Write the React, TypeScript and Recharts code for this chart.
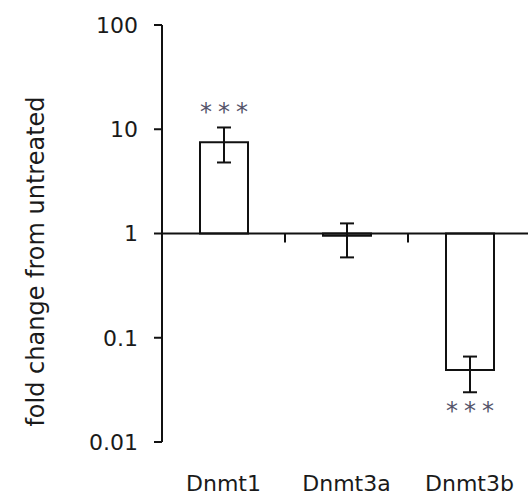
import { BarChart, Bar, XAxis, YAxis, ReferenceLine, LabelList, Label } from 'recharts'

const genes = ['Dnmt1', 'Dnmt3a', 'Dnmt3b']
const foldChange = [7.5, 0.95, 0.049]
const errLow = [4.8, 0.59, 0.03]
const errHigh = [10.4, 1.25, 0.066]
const significance = ['***', '', '***']
const yTicks = [0.01, 0.1, 1, 10, 100]

const data = genes.map((gene, i) => ({
  gene,
  bar: foldChange[i] >= 1 ? [1, foldChange[i]] : [foldChange[i], 1],
  err: [errLow[i], errHigh[i]],
  sig: significance[i],
  up: foldChange[i] >= 1,
}))

const font = 'DejaVu Sans, Verdana, sans-serif'
const ink = '#111'

// vertical whisker drawn from the hidden bar that spans low..high
function ErrorShape(props: any) {
  const { x, y, width, height } = props
  const cx = x + width / 2
  return (
    <g stroke={ink} strokeWidth={2}>
      <line x1={cx} x2={cx} y1={y} y2={y + height} />
      <line x1={cx - 7} x2={cx + 7} y1={y} y2={y} />
      <line x1={cx - 7} x2={cx + 7} y1={y + height} y2={y + height} />
    </g>
  )
}

function Stars(props: any) {
  const { x, y, width, height, index, value } = props
  if (!value) return null
  const up = data[index].up
  const ty = up ? y - 7 : y + height + 27
  return (
    <text
      x={x + width / 2 + 3}
      y={ty}
      textAnchor="middle"
      fontSize={24}
      letterSpacing={6}
      fontFamily={font}
      fill="#55556a"
    >
      {value}
    </text>
  )
}

function YTitle(props: any) {
  const vb = props.viewBox
  const cx = vb.x + 44
  const cy = vb.y + vb.height / 2 + 28
  return (
    <text
      x={cx}
      y={cy}
      transform={`rotate(-90, ${cx}, ${cy})`}
      textAnchor="middle"
      fontSize={24}
      fontFamily={font}
      fill="#1a1a1a"
    >
      fold change from untreated
    </text>
  )
}

export default function App() {
  return (
    <div style={{ position: 'relative', width: 528, height: 501, overflow: 'hidden', background: '#fff' }}>
      <style>{`body{margin:0;overflow:hidden}`}</style>
      <BarChart
        width={536}
        height={501}
        data={data}
        margin={{ top: 25, right: 5, bottom: 0, left: 0 }}
        barSize={48}
      >
        <XAxis
          dataKey="gene"
          axisLine={false}
          tickLine={false}
          tickSize={0}
          tickMargin={33}
          height={59}
          tick={{ fontSize: 22, fontFamily: font, fill: '#1a1a1a' }}
        />
        <XAxis xAxisId="err" dataKey="gene" hide />
        <YAxis
          scale="log"
          type="number"
          domain={[0.01, 100]}
          ticks={yTicks}
          allowDataOverflow
          width={162}
          tickSize={8}
          tickMargin={16}
          axisLine={{ stroke: ink, strokeWidth: 2 }}
          tickLine={{ stroke: ink, strokeWidth: 2 }}
          tick={{ fontSize: 22, fontFamily: font, fill: '#1a1a1a' }}
        >
          <Label content={YTitle} />
        </YAxis>
        <Bar dataKey="bar" fill="#fff" stroke={ink} strokeWidth={2} isAnimationActive={false} />
        <Bar
          dataKey="err"
          xAxisId="err"
          fill="none"
          shape={ErrorShape}
          isAnimationActive={false}
        >
          <LabelList dataKey="sig" content={Stars} />
        </Bar>
        <ReferenceLine y={1} stroke={ink} strokeWidth={2} />
        <ReferenceLine
          segment={[{ x: 'Dnmt3a', y: 1 }, { x: 'Dnmt3a', y: 0.82 }]}
          position="start"
          stroke={ink}
          strokeWidth={2}
        />
        <ReferenceLine
          segment={[{ x: 'Dnmt3b', y: 1 }, { x: 'Dnmt3b', y: 0.82 }]}
          position="start"
          stroke={ink}
          strokeWidth={2}
        />
      </BarChart>
    </div>
  )
}
